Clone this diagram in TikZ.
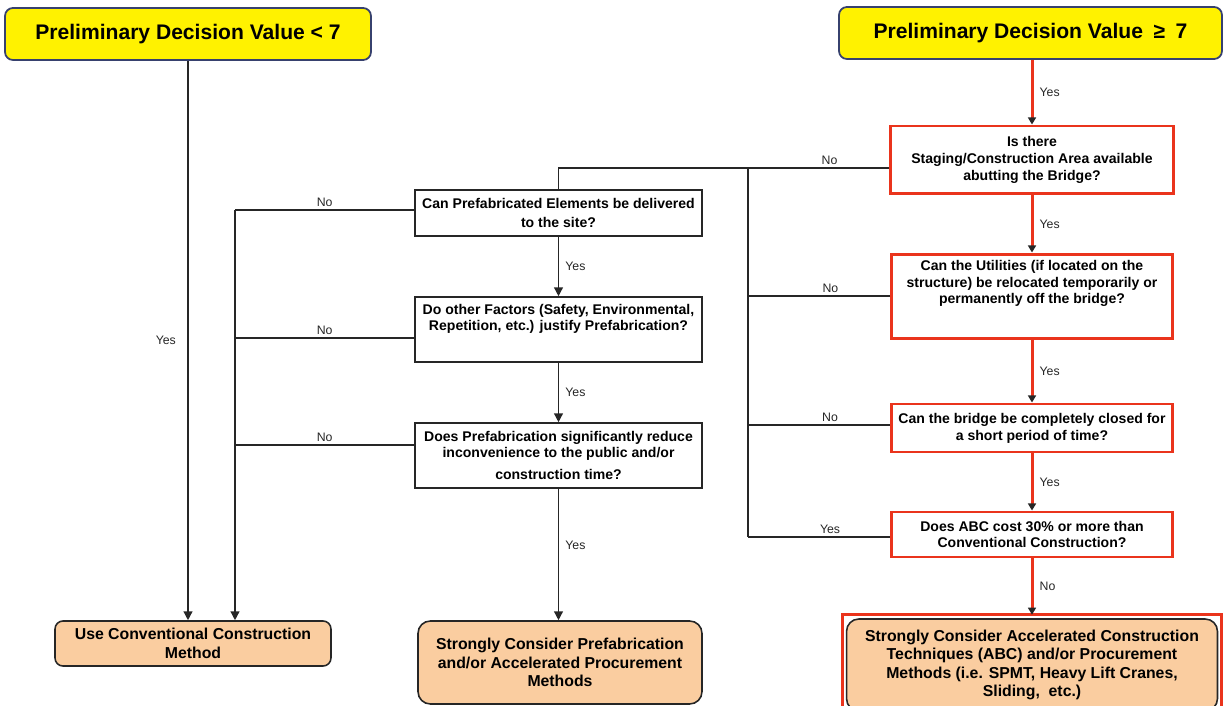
\documentclass[tikz,border=0pt]{standalone}
\usepackage{fontspec}
\setmainfont{Liberation Sans}
\usetikzlibrary{arrows.meta}
\definecolor{ttlyellow}{RGB}{255,242,0}
\definecolor{ttlborder}{RGB}{55,65,110}
\definecolor{peach}{RGB}{250,205,160}
\definecolor{abcred}{RGB}{234,52,28}
\begin{document}
\begin{tikzpicture}[x=0.02cm,y=-0.02cm,
  title/.style={draw=ttlborder, line width=1pt, fill=ttlyellow, rounded corners=4.5pt,
    font=\fontsize{12}{14}\selectfont\bfseries},
  qbox/.style={draw=black!85, line width=0.9pt, fill=white, align=center,
    font=\fontsize{8}{9.6}\selectfont\bfseries, inner sep=0pt},
  redq/.style={qbox, draw=abcred, line width=1.7pt},
  qtxt/.style={align=center, font=\fontsize{8}{9.6}\selectfont\bfseries, inner sep=0pt},
  endbox/.style={draw=black!85, line width=0.9pt, fill=peach, align=center,
    font=\fontsize{9}{10.6}\selectfont\bfseries, inner sep=0pt},
  lbl/.style={font=\fontsize{7}{8}\selectfont, inner sep=1.5pt, text=black!85},
  conn/.style={draw=black!85, line width=0.8pt},
  arr/.style={conn, -{Triangle[length=5pt,width=5pt]}},
  redarr/.style={draw=abcred, line width=1.7pt, -{Triangle[length=4pt,width=4.5pt,color=black!85]}}
]
\useasboundingbox (0,0) rectangle (1225,706);

% title boxes
\node[title, minimum width=7.32cm, minimum height=1.04cm] (topL) at (188,34) {Preliminary Decision Value < 7};
\node[title, minimum width=7.66cm, minimum height=1.04cm] (topR) at (1030.5,33) {Preliminary Decision Value\enspace≥\enspace7};

% right (red) column
\node[redq, minimum width=5.66cm, minimum height=1.36cm] (stage) at (1032,160) {Is there\\Staging/Construction Area available\\abutting the Bridge?};
\node[redq, minimum width=5.62cm, minimum height=1.7cm] (util) at (1032,296.5) {};
\node[qtxt] (utilT) at (1032,283.5) {Can the Utilities (if located on the\\structure) be relocated temporarily or\\permanently off the bridge?};
\node[redq, minimum width=5.64cm, minimum height=0.96cm] (closed) at (1032,428) {Can the bridge be completely closed for\\a short period of time?};
\node[redq, minimum width=5.64cm, minimum height=0.9cm] (abc) at (1032,534.5) {Does ABC cost 30\% or more than\\Conventional Construction?};
\node[endbox, minimum width=7.42cm, minimum height=1.84cm, rounded corners=7pt] (final) at (1032,665) {Strongly Consider Accelerated Construction\\Techniques (ABC) and/or Procurement\\Methods (i.e. SPMT, Heavy Lift Cranes,\\Sliding,\ \ etc.)};
\draw[abcred, line width=1.7pt] ([xshift=-2pt,yshift=2pt]final.north west) rectangle ([xshift=2pt,yshift=-2pt]final.south east);

% middle column
\node[qbox, minimum width=5.74cm, minimum height=0.92cm] (can) at (558.5,213) {Can Prefabricated Elements be delivered\\[1.2pt]to the site?};
\node[qbox, minimum width=5.74cm, minimum height=1.3cm] (other) at (558.5,329.5) {};
\node[qtxt] (otherT) at (558.5,319) {Do other Factors (Safety, Environmental,\\[-0.6pt]Repetition, etc.) justify Prefabrication?};
\node[qbox, minimum width=5.74cm, minimum height=1.3cm] (does) at (558.5,455.5) {Does Prefabrication significantly reduce\\[-0.6pt]inconvenience to the public and/or\\[2.5pt]construction time?};

% outcome boxes
\node[endbox, minimum width=5.52cm, minimum height=0.9cm, rounded corners=4.5pt] (conv) at (193,643.5) {Use Conventional Construction\\Method};
\node[endbox, minimum width=5.68cm, minimum height=1.66cm, rounded corners=7pt] (prefab) at (560,662.5) {Strongly Consider Prefabrication\\and/or Accelerated Procurement\\Methods};

% junction coordinates
\coordinate (jA) at (235,210);
\coordinate (jB) at (235,338);
\coordinate (jC) at (235,445);
\coordinate (r0) at (748,168);
\coordinate (r1) at (748,296);
\coordinate (r2) at (748,425);
\coordinate (r3) at (748,537);

% left connectors
\draw[arr] (topL.south) -- (topL.south |- conv.north) node[lbl, pos=0.5, left=5pt] {Yes};
\draw[conn] (can.west |- jA) -- (jA) node[lbl, midway, above] {No};
\draw[arr] (jA) -- (jA |- conv.north);
\draw[conn] (other.west |- jB) -- (jB) node[lbl, midway, above] {No};
\draw[conn] (does.west |- jC) -- (jC) node[lbl, midway, above] {No};

% middle connectors
\draw[arr] (can.south) -- (other.north) node[lbl, midway, right=2pt] {Yes};
\draw[arr] (other.south) -- (does.north) node[lbl, midway, right=2pt] {Yes};
\draw[arr] (does.south) -- (does.south |- prefab.north) node[lbl, pos=0.43, right=2pt] {Yes};

% right-to-middle connectors
\draw[conn] (stage.west |- r0) -| (can.north) node[lbl, pos=0.09, above] {No};
\draw[conn] (r0) -- (r3);
\draw[conn] (util.west |- r1) -- (r1) node[lbl, pos=0.42, above] {No};
\draw[conn] (closed.west |- r2) -- (r2) node[lbl, pos=0.42, above] {No};
\draw[conn] (abc.west |- r3) -- (r3) node[lbl, pos=0.42, above] {Yes};

% red path
\draw[redarr] (topR.south -| stage.north) -- (stage.north) node[lbl, midway, right=2pt] {Yes};
\draw[redarr] (stage.south) -- (util.north) node[lbl, midway, right=2pt] {Yes};
\draw[redarr] (util.south) -- (closed.north) node[lbl, midway, right=2pt] {Yes};
\draw[redarr] (closed.south) -- (abc.north) node[lbl, midway, right=2pt] {Yes};
\draw[redarr] (abc.south) -- ([yshift=2pt]final.north) node[lbl, midway, right=2pt] {No};
\end{tikzpicture}
\end{document}
